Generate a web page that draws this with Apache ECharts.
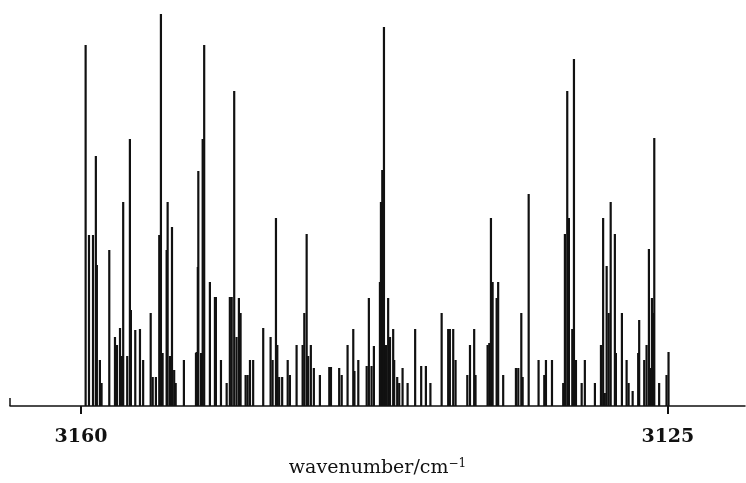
<!DOCTYPE html>
<html>
<head>
<meta charset="utf-8">
<script src="https://cdn.jsdelivr.net/npm/echarts@6/dist/echarts.min.js"></script>
<style>
  html, body { margin: 0; padding: 0; background: #fff; }
  #chart { width: 746px; height: 483px; }
</style>
</head>
<body>
<div id="chart"></div>
<script>
// stick positions (cm^-1) and relative intensities
var wavenumbers = [
  3159.72, 3159.52, 3159.28, 3159.11, 3159.05, 3158.87, 3158.77, 3158.31, 3157.97, 3157.85,
  3157.67, 3157.55, 3157.48, 3157.24, 3157.08, 3157.02, 3156.76, 3156.48, 3156.29, 3155.84,
  3155.72, 3155.53, 3155.33, 3155.23, 3155.13, 3154.89, 3154.83, 3154.69, 3154.57, 3154.44,
  3154.35, 3153.86, 3153.14, 3153.10, 3153.03, 3153.00, 3152.84, 3152.74, 3152.65, 3152.31,
  3152.01, 3151.95, 3151.65, 3151.31, 3151.12, 3151.01, 3150.86, 3150.72, 3150.58, 3150.48,
  3150.18, 3150.06, 3149.92, 3149.73, 3149.13, 3148.69, 3148.57, 3148.37, 3148.29, 3148.18,
  3148.00, 3147.67, 3147.54, 3147.14, 3146.78, 3146.68, 3146.54, 3146.45, 3146.29, 3146.11,
  3145.75, 3145.19, 3145.09, 3144.60, 3144.45, 3144.10, 3143.76, 3143.69, 3143.46, 3142.96,
  3142.83, 3142.67, 3142.53, 3142.17, 3142.11, 3142.03, 3141.93, 3141.81, 3141.68, 3141.57,
  3141.38, 3141.32, 3141.14, 3141.02, 3140.82, 3140.52, 3140.07, 3139.71, 3139.43, 3139.16,
  3138.49, 3138.10, 3138.00, 3137.80, 3137.66, 3136.96, 3136.80, 3136.55, 3136.47, 3135.75,
  3135.65, 3135.55, 3135.45, 3135.21, 3135.12, 3134.82, 3134.06, 3133.92, 3133.74, 3133.66,
  3133.30, 3132.71, 3132.37, 3132.27, 3131.91, 3131.24, 3131.14, 3131.00, 3130.90, 3130.70,
  3130.60, 3130.48, 3130.14, 3129.95, 3129.35, 3128.99, 3128.86, 3128.76, 3128.65, 3128.53,
  3128.41, 3128.16, 3128.10, 3127.74, 3127.46, 3127.34, 3127.10, 3126.77, 3126.71, 3126.41,
  3126.27, 3126.13, 3126.07, 3125.95, 3125.87, 3125.81, 3125.52, 3125.08, 3124.96
];
var intensities = [
  361, 171, 171, 250, 141, 46, 23, 156, 69, 61,
  78, 50, 204, 50, 267, 96, 76, 77, 46, 93,
  29, 29, 171, 392, 53, 156, 204, 50, 179, 36,
  23, 46, 53, 54, 139, 235, 53, 267, 361, 124,
  109, 109, 46, 23, 109, 109, 315, 69, 108, 93,
  31, 31, 46, 46, 78, 69, 46, 188, 61, 29,
  29, 46, 31, 61, 61, 93, 172, 50, 61, 38,
  31, 39, 39, 38, 31, 61, 77, 35, 46, 40,
  108, 40, 60, 124, 204, 236, 379, 61, 108, 69,
  77, 46, 29, 23, 38, 23, 77, 40, 40, 23,
  93, 77, 77, 77, 46, 31, 61, 77, 31, 61,
  63, 188, 124, 108, 124, 31, 38, 38, 93, 29,
  212, 46, 31, 46, 46, 23, 172, 315, 188, 77,
  347, 46, 23, 46, 23, 61, 188, 13, 140, 93,
  204, 172, 53, 93, 46, 23, 15, 53, 86, 46,
  61, 157, 38, 108, 93, 268, 23, 31, 54
];
var tickValues = [3160, 3125];
var axisMin = 3120.4, axisMax = 3164.23;

var sticks = wavenumbers.map(function (w, i) { return [w, intensities[i]]; });

var chart = echarts.init(document.getElementById('chart'));
chart.setOption({
  animation: false,
  grid: { left: 10, right: 1, top: 0, bottom: 77 },
  xAxis: {
    type: 'value',
    inverse: true,
    min: axisMin,
    max: axisMax,
    splitLine: { show: false },
    axisLine: { lineStyle: { color: '#111', width: 1.5 } },
    axisTick: { customValues: tickValues, length: 8, lineStyle: { color: '#111', width: 2 } },
    axisLabel: {
      customValues: tickValues,
      formatter: function (v) { return String(v); },
      margin: 22,
      color: '#111',
      fontFamily: 'DejaVu Serif',
      fontWeight: 'bold',
      fontSize: 19
    },
    name: 'wavenumber/cm{sup|\u22121}',
    nameLocation: 'middle',
    nameGap: 52,
    nameTextStyle: {
      color: '#111',
      fontFamily: 'DejaVu Serif',
      fontSize: 19,
      rich: {
        sup: { fontFamily: 'DejaVu Serif', fontSize: 12, color: '#111', padding: [0, 0, 9, 0] }
      }
    }
  },
  yAxis: {
    type: 'value',
    min: 0,
    max: 406,
    show: false
  },
  series: [{
    type: 'custom',
    data: sticks,
    renderItem: function (params, api) {
      var p0 = api.coord([api.value(0), 0]);
      var p1 = api.coord([api.value(0), api.value(1)]);
      return {
        type: 'line',
        shape: { x1: p0[0], y1: p0[1], x2: p1[0], y2: p1[1] },
        style: { stroke: '#111', lineWidth: 2.2 }
      };
    },
    markLine: {
      silent: true,
      symbol: 'none',
      label: { show: false },
      lineStyle: { color: '#111', width: 1.5, type: 'solid' },
      data: [[{ coord: [axisMax, 0] }, { coord: [axisMax, 8] }]]
    }
  }]
});
</script>
</body>
</html>
